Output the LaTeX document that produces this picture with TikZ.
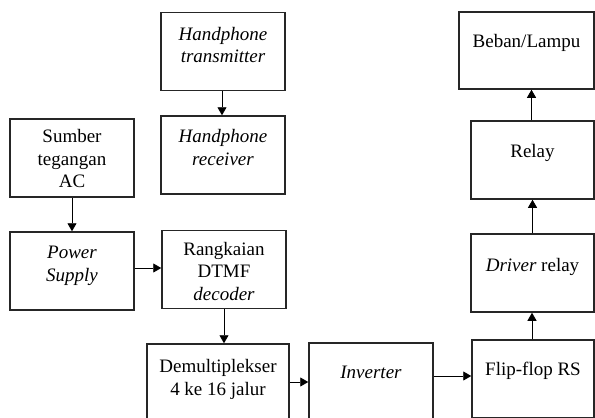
\documentclass[tikz,border=0pt]{standalone}
\usepackage{fontspec}
\setmainfont{Liberation Serif}
\usetikzlibrary{arrows.meta,calc}
\begin{document}
\begin{tikzpicture}[x=1pt,y=-1pt,
  blk/.style={draw=black!85,line width=1.5pt,rectangle,inner sep=0pt,minimum height=78pt},
  txt/.style={anchor=north,inner sep=0pt,align=center,font=\fontsize{19}{22.5}\selectfont},
  arr/.style={draw=black,line width=0.9pt,-{Triangle[length=8pt,width=9pt]}}]
\clip (0,0) rectangle (595,418);
% boxes
\node[blk,minimum width=124pt] (tx) at (223,51.5) {};
\node[blk,minimum width=124pt] (rx) at (223,155) {};
\node[blk,minimum width=124pt] (src) at (72,158) {};
\node[blk,minimum width=124pt] (ps) at (72,271) {};
\node[blk,minimum width=124pt] (dtmf) at (224,269.5) {};
\node[blk,minimum width=142pt] (demux) at (218,383) {};
\node[blk,minimum width=124pt] (inv) at (371,382) {};
\node[blk,minimum width=122pt] (ff) at (533,379) {};
\node[blk,minimum width=123pt] (drv) at (532.5,273) {};
\node[blk,minimum width=123pt] (relay) at (532.5,160) {};
\node[blk,minimum width=135pt,minimum height=77pt] (beban) at (526.5,50.5) {};
% texts
\node[txt] (ttx) at ([yshift=-15pt]tx.north) {\itshape Handphone\\\itshape transmitter};
\node[txt] (trx) at ([yshift=-14pt]rx.north) {\itshape Handphone\\\itshape receiver};
\node[txt] (tsrc) at ([yshift=-11pt]src.north) {Sumber\\tegangan\\AC};
\node[txt] (tps) at ([yshift=-15pt]ps.north) {\itshape Power\\\itshape Supply};
\node[txt] (tdtmf) at ([yshift=-12pt]dtmf.north) {Rangkaian\\DTMF\\\itshape decoder};
\node[txt] (tdemux) at ([yshift=-16pt]demux.north) {Demultiplekser\\4 ke 16 jalur};
\node[txt] (tinv) at ([yshift=-24pt]inv.north) {\itshape Inverter};
\node[txt] (tff) at ([yshift=-23pt]ff.north) {Flip-flop RS};
\node[txt] (tdrv) at ([yshift=-25pt]drv.north) {\textit{Driver} relay};
\node[txt] (trelay) at ([yshift=-24pt]relay.north) {Relay};
\node[txt] (tbeban) at ([yshift=-23pt]beban.north) {Beban/Lampu};
% connectors
\draw[arr] ([xshift=-1pt]tx.south) -- ([xshift=-1pt]rx.north);
\draw[arr] (src.south) -- (ps.north);
\draw[arr] ([yshift=3pt]ps.east) -- ([yshift=3pt]ps.east -| dtmf.west);
\draw[arr] (dtmf.south) -- (dtmf.south |- demux.north);
\draw[arr] (inv.west -| demux.east) -- (inv.west);
\draw[arr] ([yshift=6pt]inv.east) -- ([yshift=6pt]inv.east -| ff.west);
\draw[arr] ([xshift=-1pt]ff.north) -- ([xshift=-1pt]ff.north |- drv.south);
\draw[arr] (drv.north) -- (relay.south);
\draw[arr] ([xshift=-1pt]relay.north) -- ([xshift=-1pt]relay.north |- beban.south);
\end{tikzpicture}
\end{document}
